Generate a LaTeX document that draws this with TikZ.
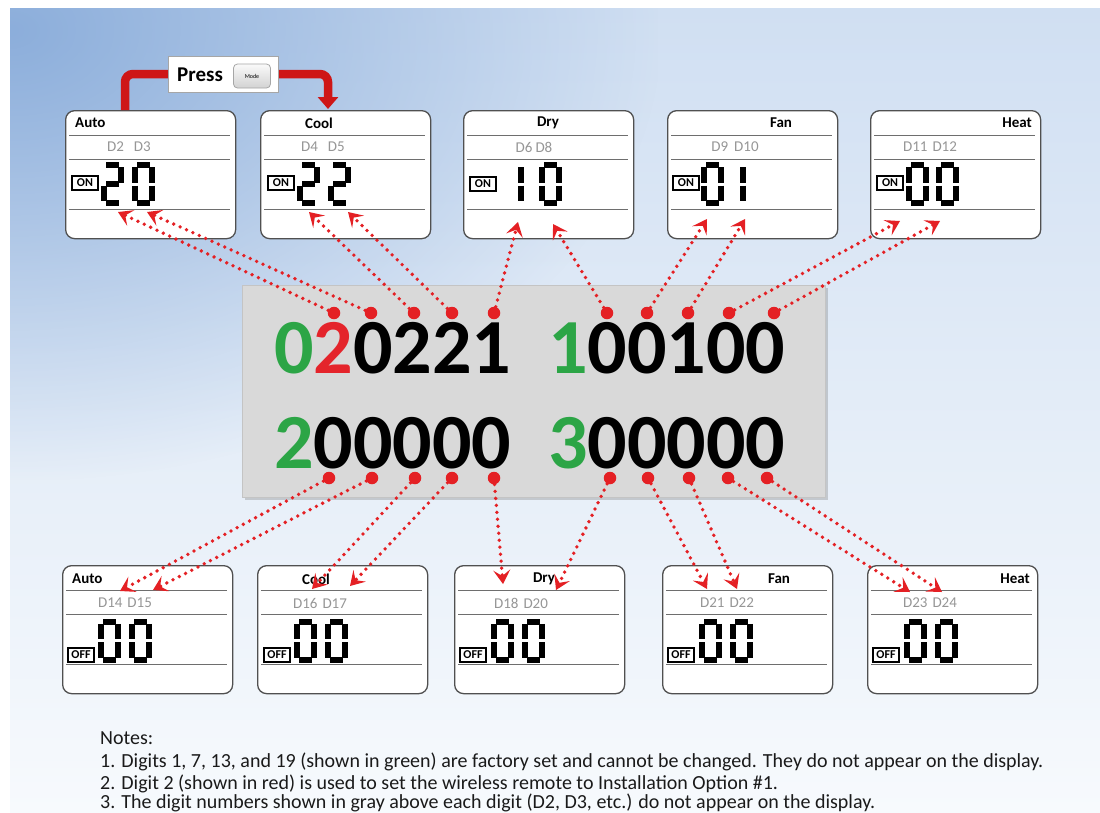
\documentclass[tikz,border=0pt]{standalone}
\usepackage{fontspec}
\setmainfont{Carlito}
\usetikzlibrary{arrows.meta,fadings,shadows}
\definecolor{bgtop}{RGB}{208,223,242}
\definecolor{bgmid}{RGB}{240,245,251}
\definecolor{bgbot}{RGB}{247,250,253}
\definecolor{bgblue}{RGB}{140,174,219}
\definecolor{dotred}{RGB}{228,32,36}
\definecolor{pressred}{RGB}{206,22,22}
\definecolor{dgreen}{RGB}{44,165,70}
\definecolor{dred}{RGB}{228,36,43}
\definecolor{boxedge}{RGB}{80,80,80}
\definecolor{sepgray}{RGB}{110,110,110}
\definecolor{dlabel}{RGB}{150,150,150}
\definecolor{dispgray}{RGB}{217,217,217}
\definecolor{dispedge}{RGB}{196,196,196}
\tikzfading[name=tlfade, inner color=transparent!0, outer color=transparent!100]
\tikzset{
  lcd/.style={draw=boxedge, line width=1.3pt, fill=white, rounded corners=9pt,
    minimum width=170pt, minimum height=128pt, inner sep=0pt},
  sep/.style={draw=sepgray, line width=1pt},
  ttl/.style={font=\bfseries\fontsize{15}{15}\selectfont, text=black, inner sep=0pt},
  dlab/.style={font=\fontsize{15}{15}\selectfont, text=dlabel, inner sep=0pt},
  onbox/.style={draw=black, line width=1.1pt, fill=white, font=\bfseries\fontsize{12}{12}\selectfont,
    inner sep=0pt, minimum width=26pt, minimum height=14pt},
  seg/.style={line width=5.5pt, line cap=butt, black},
  dotline/.style={dotred, line width=3.8pt, dash pattern=on 0pt off 7pt, line cap=round,
    -{Stealth[length=14pt,width=17pt,inset=6pt]}},
  reddot/.style={circle, fill=dotred, minimum size=12.5pt, inner sep=0pt},
  pressarr/.style={pressred, line width=8.5pt, rounded corners=8pt},
  bignum/.style={font=\bfseries\fontsize{78}{78}\selectfont, inner sep=0pt, text=black},
  notes/.style={font=\fontsize{20}{23}\selectfont, text={rgb,255:red,26;green,26;blue,26}, inner sep=0pt},
  pics/sdzero/.style={code={
    \draw[seg] (2,0)--(15,0) (17,2)--(17,17.5) (17,20.5)--(17,36) (2,38)--(15,38)
               (0,20.5)--(0,36) (0,2)--(0,17.5);}},
  pics/sdtwo/.style={code={
    \draw[seg] (2,0)--(15,0) (17,2)--(17,17.5) (2,19)--(15,19) (0,20.5)--(0,36) (2,38)--(15,38);}},
  pics/sdone/.style={code={
    \draw[seg] (8.5,2)--(8.5,17.5) (8.5,20.5)--(8.5,36);}},
}
\newcommand\lcdbox[3]{%
  \node[lcd, anchor=north west] (#1) at (#2,#3) {};
  \draw[sep] ([xshift=4pt,yshift=-25pt]#1.north west) -- ([xshift=-6pt,yshift=-25pt]#1.north east);
  \draw[sep] ([xshift=4pt,yshift=-49pt]#1.north west) -- ([xshift=-6pt,yshift=-49pt]#1.north east);
  \draw[sep] ([xshift=4pt,yshift=-99pt]#1.north west) -- ([xshift=-6pt,yshift=-99pt]#1.north east);
}
\begin{document}
\begin{tikzpicture}[x=1pt,y=-1pt]
\useasboundingbox (0,0) rectangle (1100,812);
% background
\begin{scope}
  \clip (10,8) rectangle (1100,812);
  \shade[top color=bgtop, middle color=bgmid, bottom color=bgbot] (10,8) rectangle (1100,812);
  \fill[bgblue, path fading=tlfade] (-640,-420) rectangle (660,480);
\end{scope}

% central display
\node[fill=dispgray, draw=dispedge, line width=0.8pt, anchor=north west, inner sep=0pt,
  minimum width=583pt, minimum height=212pt,
  drop shadow={shadow xshift=2.5pt, shadow yshift=-2.5pt, opacity=0.35}] (disp) at (242,285) {};
\node[bignum, anchor=base west] (row1a) at (274,373) {\textcolor{dgreen}{0}\textcolor{dred}{2}0221};
\node[bignum, anchor=base west] (row1b) at (548,373) {\textcolor{dgreen}{1}00100};
\node[bignum, anchor=base west] (row2a) at (274,468) {\textcolor{dgreen}{2}00000};
\node[bignum, anchor=base west] (row2b) at (548,468) {\textcolor{dgreen}{3}00000};

% top boxes
\lcdbox{autoT}{65}{110}
\lcdbox{coolT}{260}{110}
\lcdbox{dryT}{463}{110}
\lcdbox{fanT}{667}{110}
\lcdbox{heatT}{870}{110}
\node[ttl, anchor=west] (autoTt) at (75,123) {Auto};
\node[ttl] (coolTt) at (319,123) {Cool};
\node[ttl] (dryTt) at (548,123) {Dry};
\node[ttl] (fanTt) at (781,123) {Fan};
\node[ttl, anchor=east] (heatTt) at (1032,123) {Heat};
\node[dlab] (autoTd) at (129,147) {D2\hspace{10pt}D3};
\node[dlab] (coolTd) at (323,147) {D4\hspace{10pt}D5};
\node[dlab] (dryTd) at (534,147) {D6\hspace{3pt}D8};
\node[dlab] (fanTd) at (735,147) {D9\hspace{6pt}D10};
\node[dlab] (heatTd) at (930,147) {D11\hspace{5pt}D12};
\node[onbox] (autoTo) at (85,183) {ON};
\node[onbox] (coolTo) at (281,183) {ON};
\node[onbox] (dryTo) at (483,184) {ON};
\node[onbox] (fanTo) at (686,183) {ON};
\node[onbox] (heatTo) at (890,183) {ON};
\pic at (104,165) {sdtwo};
\pic at (135,165) {sdzero};
\pic at (300,165) {sdtwo};
\pic at (331,165) {sdtwo};
\pic at (512.5,165) {sdone};
\pic at (542,165) {sdzero};
\pic at (704,165) {sdzero};
\pic at (734.5,165) {sdone};
\pic at (909,165) {sdzero};
\pic at (939,165) {sdzero};

% bottom boxes
\lcdbox{autoB}{62}{565}
\lcdbox{coolB}{257}{565}
\lcdbox{dryB}{454}{565}
\lcdbox{fanB}{662}{565}
\lcdbox{heatB}{867}{565}
\node[ttl, anchor=west] (autoBt) at (72,579) {Auto};
\node[ttl] (coolBt) at (316,579) {Cool};
\node[ttl] (dryBt) at (544,579) {Dry};
\node[ttl] (fanBt) at (779,579) {Fan};
\node[ttl, anchor=east] (heatBt) at (1030,579) {Heat};
\node[dlab] (autoBd) at (125,603) {D14\hspace{5pt}D15};
\node[dlab] (coolBd) at (320,603) {D16\hspace{5pt}D17};
\node[dlab] (dryBd) at (521,603) {D18\hspace{5pt}D20};
\node[dlab] (fanBd) at (727,603) {D21\hspace{5pt}D22};
\node[dlab] (heatBd) at (930,603) {D23\hspace{5pt}D24};
\node[onbox] (autoBo) at (81,655) {OFF};
\node[onbox] (coolBo) at (277,655) {OFF};
\node[onbox] (dryBo) at (473,655) {OFF};
\node[onbox] (fanBo) at (681,655) {OFF};
\node[onbox] (heatBo) at (886,655) {OFF};
\begin{scope}[yscale=0.95]
\pic at (101,654.7) {sdzero};
\pic at (132,654.7) {sdzero};
\pic at (297,654.7) {sdzero};
\pic at (328,654.7) {sdzero};
\pic at (494,654.7) {sdzero};
\pic at (525,654.7) {sdzero};
\pic at (702,654.7) {sdzero};
\pic at (733,654.7) {sdzero};
\pic at (907,654.7) {sdzero};
\pic at (938,654.7) {sdzero};
\end{scope}

% press mode
\draw[pressarr] ([xshift=60pt]autoT.north west) |- (223,74);
\draw[pressarr, -{Triangle[length=12pt,width=20pt]}] (223,74) -| ([xshift=68pt,yshift=1pt]coolT.north west);
\node[draw=gray!70, fill=white, line width=0.8pt, minimum width=110pt, minimum height=36pt, inner sep=0pt] (press) at (223,74) {};
\node[font=\bfseries\fontsize{21}{21}\selectfont, anchor=west, inner sep=0pt] (presstxt) at (177,75) {Press};
\node[draw=gray!70, rounded corners=4pt, top color=gray!4, bottom color=gray!35, line width=0.8pt,
  minimum width=37pt, minimum height=24pt, inner sep=0pt, font=\fontsize{6}{6}\selectfont] (mode) at (252,76) {Mode};

% dots
\foreach \n/\x in {1/334,2/371,3/414,4/452,5/494,6/607,7/647,8/688,9/729,10/774}
  \node[reddot] (t\n) at (\x,313) {};
\foreach \n/\x in {1/329,2/372,3/415,4/452,5/494,6/610,7/648,8/689,9/728,10/767}
  \node[reddot] (b\n) at (\x,478) {};

% targets
\coordinate (ta1) at (118,212);
\coordinate (ta2) at (147,212);
\coordinate (ta3) at (309,212);
\coordinate (ta4) at (348,212);
\coordinate (ta5) at (518,222);
\coordinate (ta6) at (553,224);
\coordinate (ta7) at (707,219);
\coordinate (ta8) at (745,219);
\coordinate (ta9) at (900,221);
\coordinate (ta10) at (940,221);
\coordinate (ba1) at (120,591);
\coordinate (ba2) at (153,590);
\coordinate (ba3) at (312,589);
\coordinate (ba4) at (350,586);
\coordinate (ba5) at (503,584);
\coordinate (ba6) at (556,590);
\coordinate (ba7) at (707,589);
\coordinate (ba8) at (737,589);
\coordinate (ba9) at (910,592);
\coordinate (ba10) at (942,592);
\foreach \n in {1,...,10} {
  \draw[dotline] (t\n) -- (ta\n);
  \draw[dotline] (b\n) -- (ba\n);
}

% notes
\node[notes, anchor=base west] (n0) at (100,744) {Notes:};
\node[notes, anchor=base west] (n1) at (100,767) {1. Digits 1, 7, 13, and 19 (shown in green) are factory set and cannot be changed. They do not appear on the display.};
\node[notes, anchor=base west] (n2) at (100,789) {2. Digit 2 (shown in red) is used to set the wireless remote to Installation Option \#1.};
\node[notes, anchor=base west] (n3) at (100,808) {3. The digit numbers shown in gray above each digit (D2, D3, etc.) do not appear on the display.};
\end{tikzpicture}
\end{document}
